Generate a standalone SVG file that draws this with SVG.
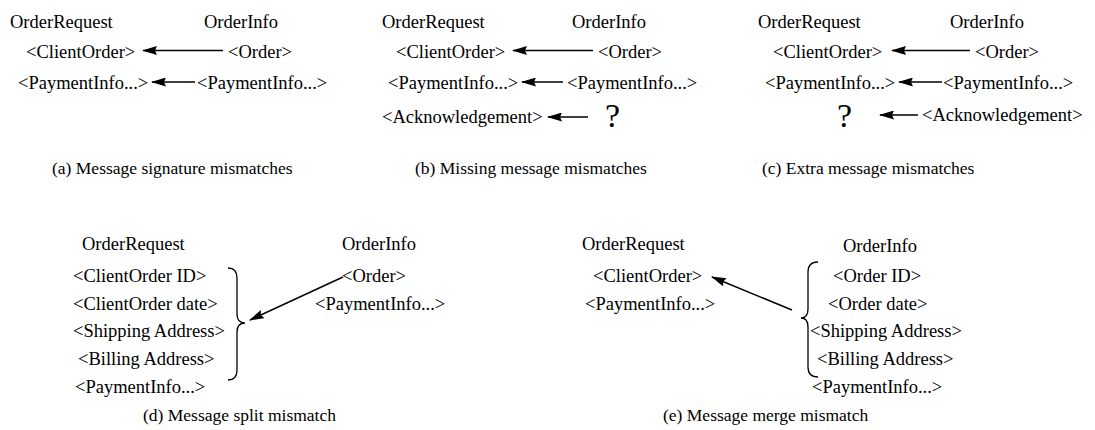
<svg xmlns="http://www.w3.org/2000/svg" width="1095" height="430" viewBox="0 0 1095 430">
<style>
text{font-family:"Liberation Serif","Times New Roman",serif;fill:#000}
.l{font-size:18.5px}
.c{font-size:17.5px}
.q{font-size:34px}
.a{stroke:#000;stroke-width:1.5;fill:none;marker-end:url(#ah)}
.b{stroke:#000;stroke-width:1.3;fill:none}
</style>
<defs>
<marker id="ah" viewBox="0 0 15 9" refX="14" refY="4.5" markerWidth="15" markerHeight="9" markerUnits="userSpaceOnUse" orient="auto">
<path d="M0,0 L15,4.5 L0,9 L2,4.5 z" fill="#000"/>
</marker>
</defs>
<rect width="1095" height="430" fill="#fff"/>

<g id="panel-a">
<text class="l" x="10" y="28">OrderRequest</text>
<text class="l" x="204" y="28">OrderInfo</text>
<text class="l" x="26" y="58">&lt;ClientOrder&gt;</text>
<text class="l" x="228" y="58">&lt;Order&gt;</text>
<text class="l" x="18" y="89">&lt;PaymentInfo...&gt;</text>
<text class="l" x="197" y="89">&lt;PaymentInfo...&gt;</text>
<text class="c" x="52" y="174">(a) Message signature mismatches</text>
</g>

<g id="panel-b">
<text class="l" x="382" y="28">OrderRequest</text>
<text class="l" x="572" y="28">OrderInfo</text>
<text class="l" x="396" y="58">&lt;ClientOrder&gt;</text>
<text class="l" x="598" y="58">&lt;Order&gt;</text>
<text class="l" x="388" y="89">&lt;PaymentInfo...&gt;</text>
<text class="l" x="567" y="89">&lt;PaymentInfo...&gt;</text>
<text class="l" x="382" y="123">&lt;Acknowledgement&gt;</text>
<text class="q" x="605" y="127">?</text>
<text class="c" x="415" y="174">(b) Missing message mismatches</text>
</g>

<g id="panel-c">
<text class="l" x="758" y="28">OrderRequest</text>
<text class="l" x="950" y="28">OrderInfo</text>
<text class="l" x="773" y="58">&lt;ClientOrder&gt;</text>
<text class="l" x="975" y="58">&lt;Order&gt;</text>
<text class="l" x="765" y="89">&lt;PaymentInfo...&gt;</text>
<text class="l" x="943" y="89">&lt;PaymentInfo...&gt;</text>
<text class="q" x="837" y="127">?</text>
<text class="l" x="922" y="121">&lt;Acknowledgement&gt;</text>
<text class="c" x="762" y="174">(c) Extra message mismatches</text>
</g>

<g id="panel-d">
<text class="l" x="82" y="250">OrderRequest</text>
<text class="l" x="342" y="250">OrderInfo</text>
<text class="l" x="73" y="282">&lt;ClientOrder ID&gt;</text>
<text class="l" x="73" y="310">&lt;ClientOrder date&gt;</text>
<text class="l" x="73" y="337">&lt;Shipping Address&gt;</text>
<text class="l" x="78" y="365">&lt;Billing Address&gt;</text>
<text class="l" x="75" y="393">&lt;PaymentInfo...&gt;</text>
<text class="l" x="342" y="282">&lt;Order&gt;</text>
<text class="l" x="315" y="310">&lt;PaymentInfo...&gt;</text>
<path class="b" d="M228,268 Q237,268 237,278 L237,314 Q237,323 245,323 Q237,323 237,332 L237,370 Q237,380 228,380"/>
<text class="c" x="143" y="421">(d) Message split mismatch</text>
</g>

<g id="panel-e">
<text class="l" x="582" y="250">OrderRequest</text>
<text class="l" x="843" y="252">OrderInfo</text>
<text class="l" x="593" y="282">&lt;ClientOrder&gt;</text>
<text class="l" x="585" y="310">&lt;PaymentInfo...&gt;</text>
<text class="l" x="833" y="282">&lt;Order ID&gt;</text>
<text class="l" x="828" y="310">&lt;Order date&gt;</text>
<text class="l" x="810" y="337">&lt;Shipping Address&gt;</text>
<text class="l" x="817" y="365">&lt;Billing Address&gt;</text>
<text class="l" x="812" y="393">&lt;PaymentInfo...&gt;</text>
<path class="b" d="M818,262 Q808,262 808,272 L808,309 Q808,318 801,318 Q808,318 808,327 L808,367 Q808,377 818,377"/>
<text class="c" x="663" y="421">(e) Message merge mismatch</text>
</g>

<g id="connectors">
<line class="a" x1="223" y1="50.5" x2="143" y2="50.5"/>
<line class="a" x1="195" y1="82" x2="152" y2="82"/>
<line class="a" x1="593" y1="50.5" x2="513" y2="50.5"/>
<line class="a" x1="563" y1="82" x2="522" y2="82"/>
<line class="a" x1="588" y1="117" x2="548" y2="117"/>
<line class="a" x1="970" y1="50.5" x2="892" y2="50.5"/>
<line class="a" x1="942" y1="82" x2="899" y2="82"/>
<line class="a" x1="918" y1="115" x2="880" y2="115"/>
<line class="a" x1="343" y1="277" x2="250" y2="320"/>
<line class="a" x1="792" y1="310" x2="712" y2="277"/>
</g>
</svg>
